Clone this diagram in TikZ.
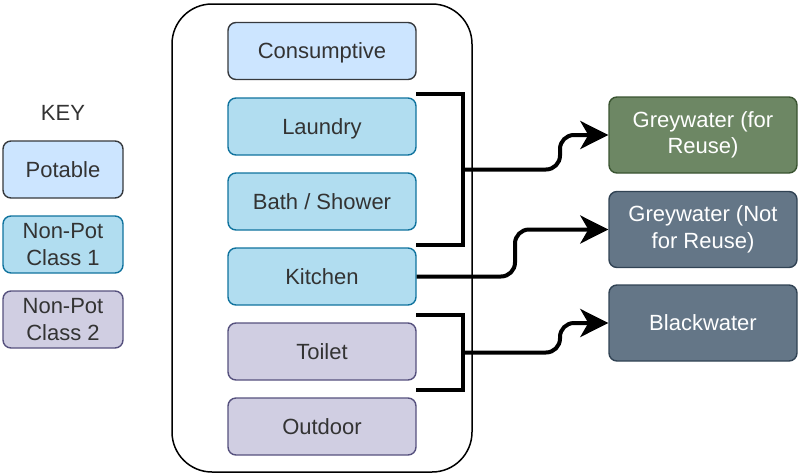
\documentclass[tikz,border=0pt]{standalone}
\usepackage{fontspec}
\setmainfont{Liberation Sans}
\usetikzlibrary{arrows.meta}

\definecolor{txt}{HTML}{333333}
\definecolor{potfill}{HTML}{CCE5FF}
\definecolor{potdraw}{HTML}{36393D}
\definecolor{onefill}{HTML}{B1DDF0}
\definecolor{onedraw}{HTML}{10739E}
\definecolor{twofill}{HTML}{D0CEE2}
\definecolor{twodraw}{HTML}{56517E}
\definecolor{greenfill}{HTML}{6D8764}
\definecolor{greendraw}{HTML}{3A5431}
\definecolor{slatefill}{HTML}{647687}
\definecolor{slatedraw}{HTML}{314354}

\tikzset{
  box/.style={draw, rounded corners=8pt, line width=1.4pt, inner sep=0pt,
    align=center, font=\fontsize{22}{26.5}\selectfont, text=txt},
  oneline/.style={text height=19.9pt, text depth=4.7pt},
  usebox/.style={box, oneline, minimum width=188pt, minimum height=57pt},
  keybox/.style={box, minimum width=120pt, minimum height=57pt},
  outbox/.style={box, minimum width=188pt, minimum height=76pt, text=white},
  potable/.style={fill=potfill, draw=potdraw},
  classone/.style={fill=onefill, draw=onedraw},
  classtwo/.style={fill=twofill, draw=twodraw},
  reuse/.style={fill=greenfill, draw=greendraw},
  waste/.style={fill=slatefill, draw=slatedraw},
  bracket/.style={draw=black, line width=4pt},
  flow/.style={draw=black, line width=4pt, rounded corners=14pt,
    -{Stealth[length=28pt, width=28pt, inset=8pt]}},
}

\begin{document}
\begin{tikzpicture}[x=1pt, y=-1pt]
  \useasboundingbox (0,0) rectangle (798,475);

  % key
  \node[font=\fontsize{22}{26.5}\selectfont, text=txt, oneline, inner sep=0pt] (key) at (63,113) {KEY};
  \node[keybox, oneline, potable] (kpot) at (63,169.5) {Potable};
  \node[keybox, classone] (kone) at (63,244.5) {Non-Pot\\Class 1};
  \node[keybox, classtwo] (ktwo) at (63,319.5) {Non-Pot\\Class 2};

  % household container
  \draw[line width=1.5pt, rounded corners=40pt] (172,4) rectangle (472,472);

  % end uses
  \node[usebox, potable]  (cons) at (322,51)    {Consumptive};
  \node[usebox, classone] (laun) at (322,126.5) {Laundry};
  \node[usebox, classone] (bath) at (322,201.5) {Bath / Shower};
  \node[usebox, classone] (kit)  at (322,276.5) {Kitchen};
  \node[usebox, classtwo] (toil) at (322,351.5) {Toilet};
  \node[usebox, classtwo] (outd) at (322,426.5) {Outdoor};

  % outlet streams
  \node[outbox, reuse] (gw1) at (703,135)   {Greywater (for\\Reuse)};
  \node[outbox, waste] (gw2) at (703,229.5) {Greywater (Not\\for Reuse)};
  \node[outbox, oneline, waste] (bw) at (703,323) {Blackwater};

  % brackets grouping the sources
  \draw[bracket] (416,94) -- (463,94) -- (463,245) -- (416,245);
  \coordinate (b1) at (463,169.5);
  \draw[bracket] (416,315) -- (463,315) -- (463,390) -- (416,390);
  \coordinate (b2) at (463,352.5);

  % flows to outlets
  \draw[flow] (b1) -- (560,169.5) |- (gw1.west);
  \draw[flow] (kit.east) -- (515,276.5) |- (gw2.west);
  \draw[flow] (b2) -- (560,352.5) |- (bw.west);
\end{tikzpicture}
\end{document}
